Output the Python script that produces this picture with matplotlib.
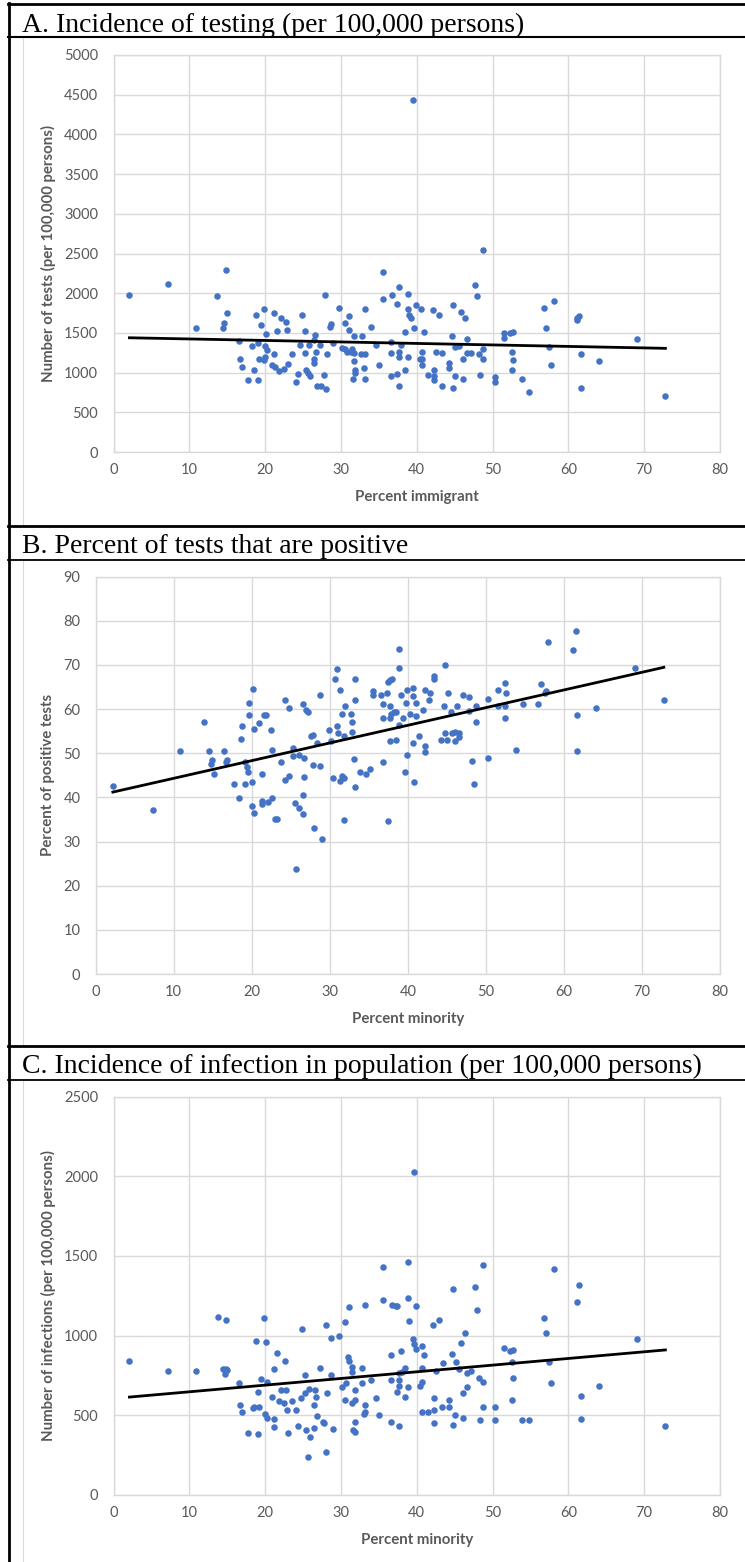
import numpy as np
import matplotlib
matplotlib.use("Agg")
import matplotlib.pyplot as plt
from matplotlib.lines import Line2D

# panel A: testing vs percent immigrant
immig_a = [2.1, 7.2, 10.9, 13.7, 14.9, 15.0, 14.6, 14.5, 16.5, 16.7, 16.9, 17.8, 18.5, 18.3, 18.8,
           19.4, 19.8, 19.0, 19.2, 19.1, 19.8, 20.0, 20.1, 20.0, 20.3, 21.2, 21.2, 21.6, 20.9, 21.3,
           21.8, 22.1, 22.7, 22.9, 22.5, 23.0, 23.6, 24.1, 24.3, 24.6, 24.8, 25.2, 25.2, 25.4, 25.7,
           25.8, 25.9, 26.5, 26.6, 26.5, 26.5, 26.7, 27.3, 26.9, 27.4, 28.0, 27.8, 27.9, 28.1, 28.6,
           28.7, 28.9, 29.8, 30.1, 30.5, 30.6, 31.0, 31.0, 30.8, 31.3, 31.5, 31.7, 31.7, 31.9, 31.9,
           31.6, 31.7, 32.8, 32.7, 33.2, 33.0, 33.2, 33.2, 33.9, 34.6, 35.0, 35.6, 35.6, 36.6, 36.8,
           36.6, 36.6, 37.4, 37.6, 37.6, 37.6, 37.4, 37.6, 37.9, 38.5, 38.5, 38.9, 38.8, 39.0, 39.3,
           39.7, 38.9, 39.5, 39.9, 40.6, 40.9, 40.7, 40.4, 40.7, 40.7, 41.5, 42.1, 42.9, 42.3, 42.3,
           42.3, 42.6, 43.3, 43.3, 44.3, 44.3, 44.6, 44.8, 45.1, 44.8, 45.1, 45.6, 45.8, 46.1, 46.1,
           46.3, 46.6, 46.6, 47.1, 47.7, 47.9, 48.2, 48.7, 48.7, 48.7, 48.3, 50.3, 50.3, 51.5, 51.5,
           52.3, 52.7, 52.5, 52.7, 52.5, 53.9, 54.8, 56.8, 57.0, 57.5, 57.7, 58.1, 61.2, 61.4, 61.1,
           61.7, 61.7, 64.1, 69.0, 72.8]
tests = [1973, 2112, 1562, 1960, 2288, 1750, 1629, 1566, 1398, 1175, 1075, 903, 1037, 1335, 1730,
         1595, 1805, 1369, 1175, 903, 1159, 1201, 1490, 1335, 1289, 1230, 1750, 1524, 1091, 1075,
         1020, 1683, 1641, 1541, 1050, 1108, 1230, 886, 987, 1348, 1730, 1524, 1247, 1037, 999,
         1348, 953, 1415, 1473, 1175, 1121, 1264, 1348, 831, 831, 798, 974, 1973, 1230, 1578,
         1612, 1369, 1818, 1306, 1297, 1629, 1541, 1717, 1264, 1264, 1297, 1247, 1142, 1037, 999,
         919, 1457, 1457, 1230, 1230, 1054, 919, 1805, 1578, 1348, 1091, 2271, 1927, 1385, 1973,
         1247, 953, 1868, 2078, 1264, 1201, 987, 831, 1348, 1507, 1037, 1994, 1805, 1730, 1683,
         1562, 1201, 4437, 1851, 1805, 1507, 1264, 1175, 1175, 1091, 974, 1784, 1730, 1037, 957,
         903, 1264, 1247, 831, 1125, 1054, 1457, 1851, 953, 810, 1318, 1335, 1767, 1175, 915,
         1683, 1419, 1247, 1247, 2099, 1960, 1230, 2548, 1297, 1175, 970, 949, 886, 1503, 1436,
         1494, 1507, 1264, 1159, 1037, 915, 760, 1818, 1562, 1318, 1091, 1906, 1683, 1717, 1662,
         1230, 810, 1142, 1419, 705]

# panel B: percent positive vs percent minority
minor_b = [2.2, 7.3, 10.8, 13.9, 14.5, 14.9, 14.8, 15.1, 16.5, 16.7, 16.8, 17.7, 18.4, 18.6, 18.8,
           19.1, 19.1, 19.4, 19.5, 19.7, 19.7, 20.2, 20.0, 20.0, 20.3, 20.3, 20.9, 21.3, 21.3, 21.3,
           21.6, 21.8, 22.1, 22.5, 22.6, 22.6, 23.0, 23.2, 23.7, 24.3, 24.3, 24.8, 24.8, 25.3, 25.5,
           25.3, 25.7, 26.0, 26.0, 26.6, 26.9, 27.2, 26.7, 26.7, 26.6, 26.6, 27.6, 27.9, 27.8, 28.3,
           28.7, 28.7, 28.0, 29.0, 29.9, 30.1, 30.4, 30.7, 30.9, 30.9, 31.1, 31.3, 31.3, 31.5, 31.6,
           31.8, 31.8, 32.0, 31.8, 32.7, 32.9, 32.9, 33.1, 33.2, 33.2, 33.2, 33.9, 34.6, 35.2, 35.5,
           35.5, 36.6, 36.8, 36.8, 36.8, 37.3, 37.5, 37.7, 38.0, 37.7, 37.7, 37.8, 38.2, 38.5, 37.7,
           38.5, 37.5, 38.9, 38.9, 39.1, 38.9, 39.4, 39.8, 39.9, 39.9, 39.6, 40.3, 40.6, 40.6, 41.0,
           41.0, 40.6, 40.8, 41.4, 41.9, 42.2, 42.2, 42.2, 42.7, 42.9, 43.4, 43.4, 44.6, 44.8, 44.8,
           44.2, 45.0, 45.2, 45.5, 45.7, 46.0, 46.0, 46.3, 46.6, 46.6, 47.1, 47.8, 47.8, 48.2, 48.5,
           48.7, 48.7, 50.3, 50.3, 51.5, 51.5, 52.4, 52.4, 52.6, 52.4, 53.8, 54.7, 56.7, 57.0, 57.6,
           57.7, 57.9, 61.1, 61.5, 61.7, 61.7, 64.1, 69.1, 72.8]
positive = [42.7, 37.1, 50.5, 57.1, 50.5, 48.4, 47.5, 45.2, 50.5, 48.0, 48.4, 43.1, 39.9, 53.3, 56.2,
            48.0, 43.1, 46.8, 45.8, 61.5, 58.7, 64.6, 43.4, 38.1, 36.5, 55.5, 56.8, 45.2, 39.3, 38.4,
            58.7, 58.7, 39.0, 55.2, 50.8, 39.9, 35.0, 35.0, 48.0, 62.1, 44.0, 60.2, 44.9, 51.1, 38.7,
            49.3, 23.7, 37.7, 49.6, 61.2, 59.9, 59.3, 49.0, 44.6, 40.6, 36.2, 53.9, 54.2, 47.4, 52.4,
            63.1, 47.1, 33.1, 30.6, 55.2, 52.7, 44.3, 66.8, 69.0, 56.1, 54.6, 64.3, 43.7, 58.9, 44.9,
            53.9, 44.3, 60.8, 34.9, 59.0, 57.1, 54.9, 48.6, 66.8, 62.1, 42.4, 45.8, 45.2, 46.5, 64.0,
            63.3, 63.3, 61.2, 58.0, 48.0, 63.7, 66.2, 66.5, 66.8, 60.8, 58.0, 58.9, 59.3, 59.3, 52.7,
            53.0, 34.6, 73.6, 69.3, 63.3, 56.5, 58.0, 61.5, 64.3, 49.6, 45.8, 58.9, 64.9, 63.0, 61.5,
            58.4, 52.4, 43.4, 53.9, 59.9, 64.3, 51.7, 50.2, 62.1, 63.7, 67.4, 66.8, 60.8, 69.9, 54.6,
            53.0, 53.0, 63.7, 59.3, 54.6, 54.9, 52.7, 60.8, 54.6, 53.6, 63.3, 62.7, 59.6, 48.3, 43.1,
            60.6, 57.1, 62.4, 48.9, 64.3, 60.8, 65.9, 60.8, 63.7, 58.0, 50.8, 61.2, 61.2, 65.6, 63.7,
            64.0, 75.2, 73.3, 77.7, 58.7, 50.5, 60.2, 69.3, 62.1]

# panel C: infections vs percent minority
minor_c = [2.1, 7.2, 10.9, 13.8, 14.9, 14.5, 14.9, 14.7, 15.0, 16.5, 16.7, 16.9, 17.8, 18.4, 18.5,
           18.8, 19.0, 19.2, 19.1, 19.4, 19.8, 20.0, 20.1, 20.3, 20.3, 20.9, 21.2, 21.2, 21.2, 21.6,
           21.8, 22.1, 22.5, 22.7, 22.6, 22.9, 23.0, 23.6, 24.1, 24.3, 24.7, 24.8, 25.2, 25.2, 25.4,
           25.6, 25.8, 25.9, 26.5, 26.5, 26.6, 26.7, 26.9, 27.2, 27.6, 27.7, 28.0, 28.0, 28.1, 28.7,
           28.7, 28.9, 29.8, 30.2, 30.5, 30.6, 30.9, 31.0, 31.0, 30.7, 31.4, 31.4, 31.4, 31.6, 31.9,
           31.8, 31.9, 31.9, 32.8, 32.8, 33.2, 33.2, 33.1, 33.2, 33.9, 34.6, 35.0, 35.6, 35.6, 36.6,
           36.6, 36.6, 36.8, 37.2, 37.4, 37.4, 37.6, 37.6, 37.6, 37.6, 37.9, 38.1, 38.5, 38.5, 38.9,
           38.9, 39.0, 38.9, 39.5, 39.6, 39.7, 39.9, 39.9, 40.7, 40.7, 41.0, 40.7, 40.4, 40.7, 41.5,
           42.1, 42.9, 42.3, 42.3, 42.3, 42.6, 43.4, 43.3, 44.3, 44.3, 44.6, 44.8, 45.1, 44.8, 45.2,
           45.6, 45.8, 46.1, 46.1, 46.3, 46.6, 46.6, 47.2, 47.7, 47.9, 48.2, 48.7, 48.7, 48.7, 48.3,
           50.3, 50.3, 51.5, 52.3, 52.7, 52.5, 52.7, 52.5, 53.9, 54.8, 56.8, 57.0, 57.5, 57.7, 58.1,
           61.4, 61.2, 61.7, 61.7, 64.1, 69.0, 72.8]
infections = [840, 779, 779, 1116, 1099, 787, 787, 760, 783, 701, 561, 517, 387, 542, 553,
              967, 647, 553, 379, 727, 1108, 509, 961, 710, 484, 614, 787, 475, 423, 892,
              586, 658, 578, 658, 840, 534, 387, 586, 534, 431, 605, 1039, 752, 639, 406,
              239, 664, 362, 561, 421, 658, 614, 492, 796, 456, 450, 1064, 266, 639, 986,
              752, 413, 995, 674, 595, 1083, 865, 1177, 840, 699, 804, 771, 578, 406, 396,
              658, 595, 456, 796, 701, 1194, 561, 509, 517, 718, 605, 500, 1428, 1221, 875,
              718, 456, 1194, 1185, 1185, 647, 762, 718, 683, 431, 900, 771, 796, 614, 1464,
              1238, 1091, 674, 978, 2025, 944, 917, 1185, 936, 796, 875, 710, 683, 517, 517,
              1064, 1099, 605, 534, 448, 779, 829, 553, 595, 553, 884, 1290, 500, 440, 831,
              787, 953, 639, 484, 1013, 674, 762, 779, 1307, 1160, 735, 1445, 710, 553, 467,
              553, 467, 919, 903, 909, 831, 735, 595, 467, 467, 1108, 1013, 831, 701, 1420,
              1315, 1212, 622, 475, 683, 978, 431]

W, H = 745, 1562
BLUE = "#4472C4"
GREY_TXT = "#595959"
GRID = "#D9D9D9"

fig = plt.figure(figsize=(W / 100, H / 100), dpi=100)


def hline(y, lw, x0=8, x1=W):
    fig.add_artist(Line2D([x0 / W, x1 / W], [1 - y / H, 1 - y / H],
                          transform=fig.transFigure, color="black", lw=lw))


def vline(x, y0, y1, lw, color="black"):
    fig.add_artist(Line2D([x / W, x / W], [1 - y0 / H, 1 - y1 / H],
                          transform=fig.transFigure, color=color, lw=lw))


panels = [
    dict(title="A. Incidence of testing (per 100,000 persons)", base=32,
         x=immig_a, y=tests, box=(113.5, 55, 720, 452), ymax=5000, ystep=500,
         ylabel="Number of tests (per 100,000 persons)", xlabel="Percent immigrant",
         chart=(38, 525)),
    dict(title="B. Percent of tests that are positive", base=553,
         x=minor_b, y=positive, box=(95.7, 576.7, 720, 974), ymax=90, ystep=10,
         ylabel="Percent of positive tests", xlabel="Percent minority",
         chart=(561, 1045)),
    dict(title="C. Incidence of infection in population (per 100,000 persons)", base=1073,
         x=minor_c, y=infections, box=(113.5, 1096.7, 720, 1494.7), ymax=2500, ystep=500,
         ylabel="Number of infections (per 100,000 persons)", xlabel="Percent minority",
         chart=(1081, H)),
]

for p in panels:
    l, t, r, b = p["box"]
    ax = fig.add_axes([l / W, 1 - b / H, (r - l) / W, (b - t) / H])
    x = np.array(p["x"])
    y = np.array(p["y"])
    ax.scatter(x, y, s=22, color=BLUE, linewidths=0, zorder=3)
    # linear trendline, drawn over the data range like Excel does
    k, c = np.polyfit(x, y, 1)
    xs = np.array([x.min(), x.max()])
    ax.plot(xs, k * xs + c, color="black", lw=2.0, zorder=4)
    ax.set_xlim(0, 80)
    ax.set_ylim(0, p["ymax"])
    ax.set_xticks(range(0, 81, 10))
    ax.set_yticks(range(0, p["ymax"] + 1, p["ystep"]))
    ax.grid(True, color=GRID, lw=1.0)
    ax.set_axisbelow(True)
    for s in ax.spines.values():
        s.set_color(GRID)
        s.set_linewidth(1.0)
    ax.tick_params(length=0, labelsize=10.5, colors=GREY_TXT, pad=11)
    ax.tick_params(axis="x", pad=8)
    for lab in ax.get_xticklabels() + ax.get_yticklabels():
        lab.set_family("Lato")
    ax.set_xlabel(p["xlabel"], family="Lato", fontsize=10.8, fontweight="bold",
                  color=GREY_TXT, va="center")
    ax.xaxis.set_label_coords(0.5, -45 / (b - t))
    ax.set_ylabel(p["ylabel"], family="Lato", fontsize=10.8, fontweight="bold",
                  color=GREY_TXT, va="center")
    ax.yaxis.set_label_coords((48 - l) / (r - l), 0.5)

    fig.text(22 / W, 1 - p["base"] / H, p["title"], family="Liberation Serif",
             fontsize=20, va="baseline", ha="left")
    # light chart-area border on the left
    vline(23, p["chart"][0], p["chart"][1], 0.8, color=GRID)

# table rules
hline(4, 2.0)
hline(37, 1.5)
hline(526, 2.0)
hline(560, 1.3)
hline(1046, 2.0)
hline(1080, 1.3)
vline(9, 3, H, 2.0)

fig.savefig("out.png", dpi=100)
